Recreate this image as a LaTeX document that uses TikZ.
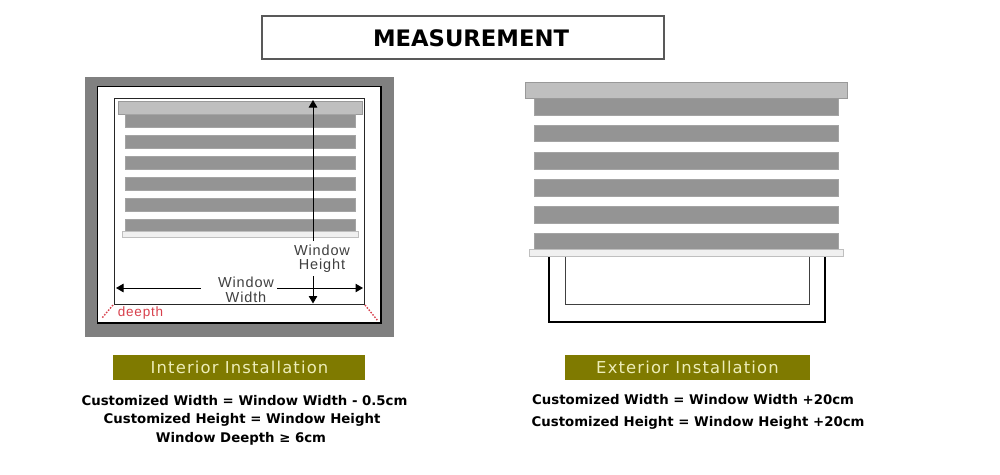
\documentclass[tikz,border=0pt]{standalone}
\usepackage{fontspec}
\usetikzlibrary{arrows.meta}
\setmainfont{DejaVu Sans}
\newfontfamily\arialspaced[LetterSpace=6]{Liberation Sans}
\newfontfamily\verdspaced[LetterSpace=7]{DejaVu Sans}
\definecolor{slatgray}{HTML}{949494}
\definecolor{railgray}{HTML}{BFBFBF}
\definecolor{framegray}{HTML}{808080}
\definecolor{olivebar}{HTML}{7F7A00}
\definecolor{olivetext}{HTML}{EDEDB8}
\definecolor{deepred}{HTML}{D8404C}
\tikzset{
  slat/.style={fill=slatgray,draw=slatgray!85!white,line width=0.5pt},
  headrail/.style={fill=railgray,draw=black!40,line width=0.6pt},
  bottomrail/.style={fill=white!94!black,draw=black!25,line width=0.9pt},
  measure/.style={draw=black,line width=1pt,-{Triangle[length=7.5pt,width=8.5pt]}},
  dimlabel/.style={font=\fontsize{14.5}{15}\selectfont\arialspaced,text=black!75,inner sep=0pt},
  banner/.style={fill=olivebar,draw=none},
  bannertext/.style={font=\fontsize{16.4}{17}\selectfont\verdspaced,text=olivetext,inner sep=0pt},
  spec/.style={font=\fontsize{13.3}{14}\selectfont\bfseries,text=black,inner sep=0pt},
  deeplink/.style={draw=deepred,line width=1.4pt,dash pattern=on 1.5pt off 1.5pt}
}
\begin{document}
\begin{tikzpicture}[x=1pt,y=-1pt]
\useasboundingbox (0,0) rectangle (1000,474);
% title
\node[draw=black!65,line width=1.1pt,minimum width=402pt,minimum height=43pt,inner sep=0pt] (title) at (463,37.5) {};
\node[font=\fontsize{22.7}{23}\selectfont\bfseries,inner sep=0pt] (titletext) at (471,38) {MEASUREMENT};
% interior frame
\fill[framegray] (85,77) rectangle (394,337);
\draw[fill=white,draw=black,line width=1.8pt] (97.5,86.5) rectangle (381,323);
\draw[draw=black!85,line width=0.9pt] (114.5,98) rectangle (364,304);
\draw[headrail] (118,101) rectangle (362,114);
\foreach \y in {114.3,135.3,156.3,177.3,198.3,219.3}
  \draw[slat] (125,\y) rectangle (355,\y+13);
\draw[bottomrail] (122,231.5) rectangle (358,237);
% interior dimensions
\coordinate (htop) at (313,100);
\coordinate (hupper) at (313,241);
\coordinate (hlower) at (313,276);
\coordinate (hbottom) at (313,303.5);
\coordinate (wleft) at (116,288);
\coordinate (wleftend) at (200.5,288);
\coordinate (wrightstart) at (277,288);
\coordinate (wright) at (363,288);
\draw[measure] (hupper) -- (htop);
\draw[measure] (hlower) -- (hbottom);
\draw[measure] (wleftend) -- (wleft);
\draw[measure] (wrightstart) -- (wright);
\node[dimlabel] (lwh1) at (322,250) {Window};
\node[dimlabel] (lwh2) at (322,265.5) {Height};
\node[dimlabel] (lww1) at (246,282) {Window};
\node[dimlabel] (lww2) at (246,297) {Width};
\node[font=\fontsize{13.5}{14}\selectfont\arialspaced,text=deepred,inner sep=0pt] (deep) at (140.5,313) {deepth};
\coordinate (dl1) at (113,305); \coordinate (dl2) at (102,318);
\coordinate (dr1) at (365,305); \coordinate (dr2) at (378,321);
\draw[deeplink] (dl1) -- (dl2);
\draw[deeplink] (dr1) -- (dr2);
% exterior
\draw[draw=black,line width=1.8pt] (548.7,257) -- (548.7,322.3) -- (825,322.3) -- (825,257);
\draw[draw=black!75,line width=0.9pt] (565.3,257) -- (565.3,304) -- (809.3,304) -- (809.3,257);
\foreach \y in {98.3,125,152.3,179.3,206.7,233.3}
  \draw[slat] (534,\y) rectangle (838,\y+16.7);
\draw[headrail] (525,82) rectangle (847,98);
\draw[bottomrail] (529.5,249.5) rectangle (843,256.5);
% banners
\node[banner,minimum width=252pt,minimum height=25pt,inner sep=0pt] (bint) at (239,367.5) {};
\node[bannertext] (tint) at (239.5,367) {Interior Installation};
\node[banner,minimum width=245pt,minimum height=25pt,inner sep=0pt] (bext) at (687.5,367.5) {};
\node[bannertext] (text) at (687.5,367) {Exterior Installation};
% specifications
\node[spec] (s1) at (244.5,400.5) {Customized Width = Window Width - 0.5cm};
\node[spec] (s2) at (242,420) {Customized Height = Window Height};
\node[spec] (s3) at (241,438.5) {Window Deepth ≥ 6cm};
\node[spec,anchor=west] (s4) at (532,400) {Customized Width = Window Width +20cm};
\node[spec,anchor=west] (s5) at (531.5,423) {Customized Height = Window Height +20cm};
\end{tikzpicture}
\end{document}
